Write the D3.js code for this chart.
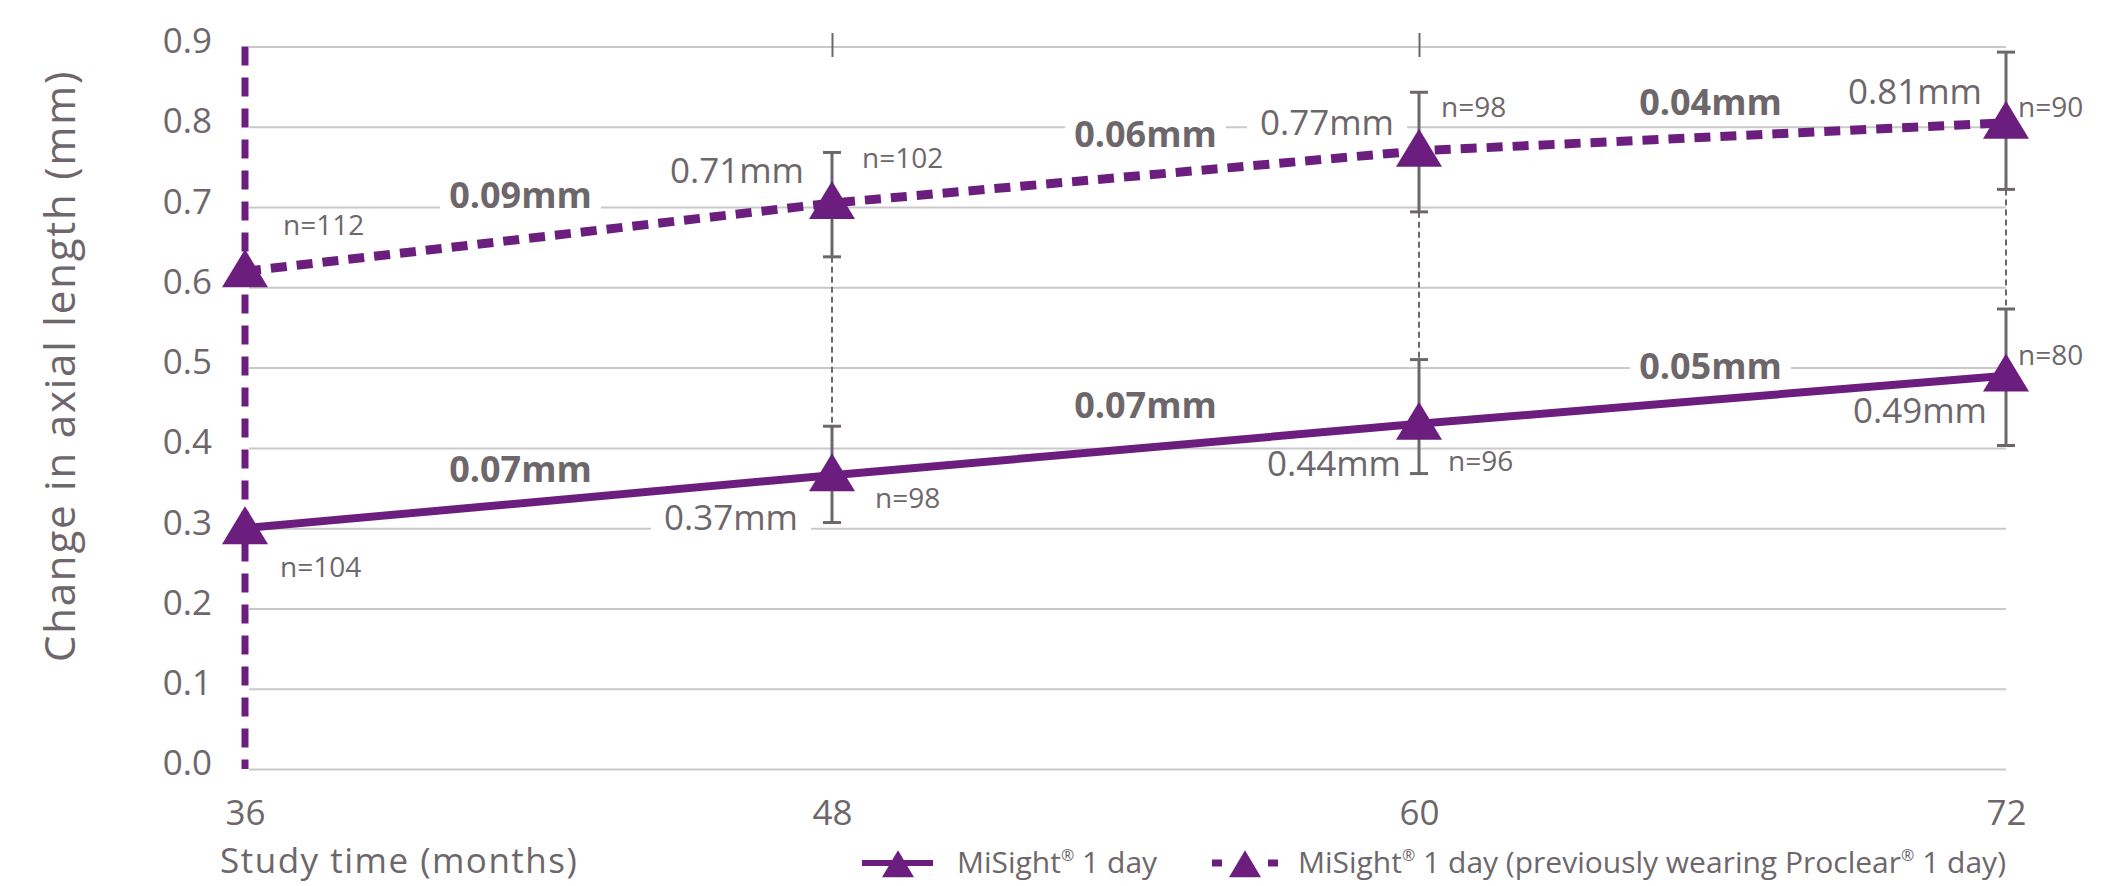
<!DOCTYPE html>
<html>
<head>
<meta charset="utf-8">
<script src="https://cdn.jsdelivr.net/npm/d3@7"></script>
<style>
  body { margin: 0; background: #fff; }
  text { font-family: "Open Sans", sans-serif; fill: #6d676b; }
</style>
</head>
<body>
<div id="chart-area"></div>
<script>
// study months on the x axis
const months = [36, 48, 60, 72];
const yTicks = [0, 0.1, 0.2, 0.3, 0.4, 0.5, 0.6, 0.7, 0.8, 0.9];
const topTicks = [48, 60];

// MiSight 1 day (solid line)
const misightValues = [0.30, 0.366, 0.43, 0.49];
const misightLow = [null, 0.307, 0.368, 0.403];
const misightHigh = [null, 0.427, 0.510, 0.573];
const misightN = ["n=104", "n=98", "n=96", "n=80"];
const misightLabels = [null, "0.37mm", "0.44mm", "0.49mm"];
const misightDiffs = ["0.07mm", "0.07mm", "0.05mm"];

// MiSight 1 day, previously wearing Proclear 1 day (dashed line)
const proclearValues = [0.62, 0.705, 0.77, 0.805];
const proclearLow = [null, 0.638, 0.694, 0.722];
const proclearHigh = [null, 0.768, 0.843, 0.893];
const proclearN = ["n=112", "n=102", "n=98", "n=90"];
const proclearLabels = [null, "0.71mm", "0.77mm", "0.81mm"];
const proclearDiffs = ["0.09mm", "0.06mm", "0.04mm"];

const purple = "#6b1e7e";
const grey = "#6d676b";
const width = 2126, height = 886;

const svg = d3.select("#chart-area").append("svg")
    .attr("width", width)
    .attr("height", height);

const x = d3.scaleLinear().domain([36, 72]).range([245, 2006]);
const y = d3.scaleLinear().domain([0, 0.9]).range([769, 46.5]);

// gridlines + y labels
const yAxis = svg.append("g")
    .attr("transform", "translate(249,0)")
    .call(d3.axisLeft(y).tickValues(yTicks).tickFormat(d3.format(".1f"))
        .tickSize(-(x(72) - 249)).tickPadding(37));
yAxis.select(".domain").remove();
yAxis.selectAll("line").attr("stroke", "#c9c9c9").attr("stroke-width", 2);
yAxis.selectAll("text").attr("font-size", 35).attr("dy", "0.17em");

// x labels
const xAxis = svg.append("g")
    .attr("transform", `translate(0,${y(0)})`)
    .call(d3.axisBottom(x).tickValues(months).tickSize(0).tickPadding(31));
xAxis.select(".domain").remove();
xAxis.selectAll("text").attr("font-size", 35);

// small ticks at the top
const tAxis = svg.append("g")
    .attr("transform", "translate(0,57)")
    .call(d3.axisTop(x).tickValues(topTicks).tickSize(24).tickFormat(""));
tAxis.select(".domain").remove();
tAxis.selectAll("line").attr("stroke", grey).attr("stroke-width", 2);

svg.append("text")
    .attr("x", 220).attr("y", 873)
    .attr("font-size", 35).attr("letter-spacing", 1.5)
    .text("Study time (months)");

svg.append("text")
    .attr("transform", "translate(75,366) rotate(-90)")
    .attr("text-anchor", "middle")
    .attr("font-size", 42).attr("letter-spacing", 1.8)
    .text("Change in axial length (mm)");

// label placement (pixel offsets from the points)
const labelDx = { proclear: [0, -28, -25, -24], misight: [0, -34, -18, -19] };
const labelDy = { proclear: [0, -20, -16, -19], misight: [0, 55, 52, 47] };
const labelBox = { proclear: [false, false, true, false], misight: [false, true, false, false] };
const nDx = { proclear: [38, 30, 22, 12], misight: [35, 43, 29, 12] };
const nDy = { proclear: [-36, -35, -34, -6], misight: [49, 33, 47, -11] };
const diffDx = [-18, 20, -2];
const diffDy = { proclear: [-29, -30, -22], misight: [-19.5, -31, -21] };
const diffBox = { proclear: [true, true, false], misight: [false, false, true] };

const boxLayer = svg.append("g");
const markLayer = svg.append("g");
const textLayer = svg.append("g");

function measureBox(textSel, pad) {
    const b = textSel.node().getBBox();
    boxLayer.append("rect")
        .attr("x", b.x - pad).attr("width", b.width + pad * 2)
        .attr("y", b.y + 6).attr("height", b.height - 8)
        .attr("fill", "#fff");
}

// vertical dashed line at month 36
markLayer.append("line")
    .attr("x1", x(36)).attr("x2", x(36))
    .attr("y1", y(0.9)).attr("y2", y(0))
    .attr("stroke", purple).attr("stroke-width", 7)
    .attr("stroke-dasharray", "19,12");

// grey dotted connectors between the two error bars
markLayer.selectAll(".connector")
    .data(months.slice(1))
    .enter().append("line")
    .attr("class", "connector")
    .attr("x1", d => x(d)).attr("x2", d => x(d))
    .attr("y1", (d, i) => y(proclearLow[i + 1]))
    .attr("y2", (d, i) => y(misightHigh[i + 1]))
    .attr("stroke", grey).attr("stroke-width", 2)
    .attr("stroke-dasharray", "6,4");

function errorBars(low, high) {
    months.forEach((m, i) => {
        if (low[i] === null) return;
        const g = markLayer.append("g").attr("stroke", grey).attr("stroke-width", 3);
        g.append("line").attr("x1", x(m)).attr("x2", x(m)).attr("y1", y(low[i])).attr("y2", y(high[i]));
        [low[i], high[i]].forEach(v => {
            g.append("line").attr("x1", x(m) - 9).attr("x2", x(m) + 9).attr("y1", y(v)).attr("y2", y(v));
        });
    });
}
errorBars(proclearLow, proclearHigh);
errorBars(misightLow, misightHigh);

const line = d3.line().x((d, i) => x(months[i])).y(d => y(d));

markLayer.append("path")
    .attr("d", line(misightValues))
    .attr("fill", "none").attr("stroke", purple).attr("stroke-width", 8);

markLayer.append("path")
    .attr("d", line(proclearValues))
    .attr("fill", "none").attr("stroke", purple).attr("stroke-width", 9)
    .attr("stroke-dasharray", "16,10");

const tri = (w, h) => `M0,${-h * 0.58}L${w / 2},${h * 0.42}L${-w / 2},${h * 0.42}Z`;

[misightValues, proclearValues].forEach(vals => {
    markLayer.selectAll(null)
        .data(vals)
        .enter().append("path")
        .attr("d", tri(46, 38))
        .attr("transform", (d, i) => `translate(${x(months[i])},${y(d)})`)
        .attr("fill", purple);
});

function seriesText(key, vals, labels, ns, diffs) {
    months.forEach((m, i) => {
        if (labels[i]) {
            const t = textLayer.append("text")
                .attr("x", x(m) + labelDx[key][i])
                .attr("y", y(vals[i]) + labelDy[key][i])
                .attr("text-anchor", "end")
                .attr("font-size", 35)
                .text(labels[i]);
            if (labelBox[key][i]) measureBox(t, 13);
        }
        textLayer.append("text")
            .attr("x", x(m) + nDx[key][i])
            .attr("y", y(vals[i]) + nDy[key][i])
            .attr("font-size", 28)
            .text(ns[i]);
    });
    diffs.forEach((d, i) => {
        const t = textLayer.append("text")
            .attr("x", (x(months[i]) + x(months[i + 1])) / 2 + diffDx[i])
            .attr("y", (y(vals[i]) + y(vals[i + 1])) / 2 + diffDy[key][i])
            .attr("text-anchor", "middle")
            .attr("font-size", 36).attr("font-weight", "bold")
            .text(d);
        if (diffBox[key][i]) measureBox(t, 9);
    });
}
seriesText("proclear", proclearValues, proclearLabels, proclearN, proclearDiffs);
seriesText("misight", misightValues, misightLabels, misightN, misightDiffs);

// legend
const legendY = 863;
const legend = svg.append("g");
legend.append("line")
    .attr("x1", 862).attr("x2", 933).attr("y1", legendY).attr("y2", legendY)
    .attr("stroke", purple).attr("stroke-width", 6);
legend.append("path").attr("d", tri(32, 27)).attr("transform", `translate(898,${legendY + 3})`).attr("fill", purple);
legend.append("line")
    .attr("x1", 1212).attr("x2", 1278).attr("y1", legendY).attr("y2", legendY)
    .attr("stroke", purple).attr("stroke-width", 7)
    .attr("stroke-dasharray", "10,46");
legend.append("path").attr("d", tri(32, 27)).attr("transform", `translate(1245,${legendY + 3})`).attr("fill", purple);

function legendText(xPos, parts) {
    const t = legend.append("text").attr("x", xPos).attr("y", legendY + 10).attr("font-size", 30);
    let raised = false;
    parts.forEach(p => {
        if (p === "®") {
            t.append("tspan").attr("font-size", 16).attr("dy", -12).text("®");
            raised = true;
        } else {
            const s = t.append("tspan").text(p);
            if (raised) { s.attr("dy", 12); raised = false; }
        }
    });
}
legendText(957, ["MiSight", "®", " 1 day"]);
legendText(1298, ["MiSight", "®", " 1 day (previously wearing Proclear", "®", " 1 day)"]);
</script>
</body>
</html>
